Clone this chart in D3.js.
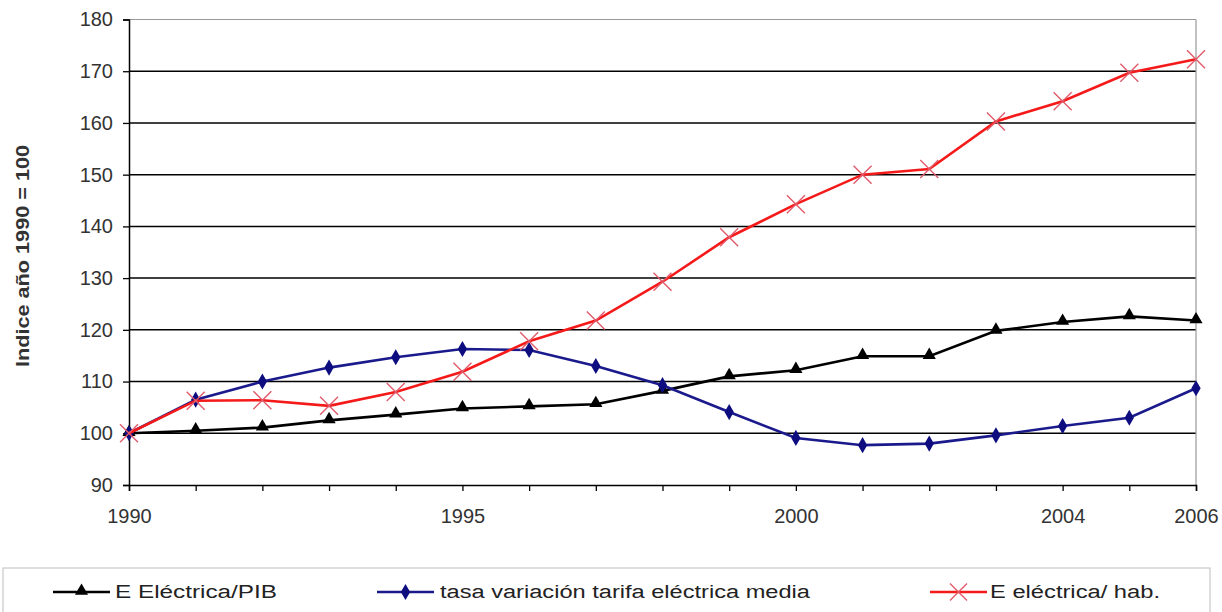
<!DOCTYPE html>
<html><head><meta charset="utf-8">
<script src="https://cdn.jsdelivr.net/npm/d3@7"></script>
<style>body{margin:0;background:#fff}svg{display:block}text{font-family:"Liberation Sans",Arial,sans-serif}</style>
</head><body>
<svg id="c" width="1222" height="612"></svg>
<script>
const years = [1990,1991,1992,1993,1994,1995,1996,1997,1998,1999,2000,2001,2002,2003,2004,2005,2006];
const elecPib = [100,100.5,101.1,102.5,103.6,104.8,105.2,105.6,108.2,111,112.2,114.9,114.9,119.8,121.5,122.6,121.8];
const tarifa = [100,106.5,110,112.7,114.7,116.3,116.1,113,109.3,104.1,99.1,97.7,98,99.6,101.4,103,108.7];
const elecHab = [100,106.3,106.4,105.3,108,111.9,117.8,121.8,129.3,137.9,144.3,150,151.1,160.3,164.2,169.7,172.3];
const yTicks = [90,100,110,120,130,140,150,160,170,180];
const xLabels = [1990,1995,2000,2004,2006];
const seriesNames = ["E Eléctrica/PIB","tasa variación tarifa eléctrica media","E eléctrica/ hab."];

const svg = d3.select("#c");
const L=129, R=1196, T=19.5, B=485;
const x = d3.scaleLinear().domain([1990,2006]).range([L,R]);
const y = d3.scaleLinear().domain([90,180]).range([B,T]);

svg.append("g").selectAll("line").data(yTicks.filter(v=>v>90&&v<180)).join("line")
  .attr("x1",L).attr("x2",R).attr("y1",d=>y(d)).attr("y2",d=>y(d))
  .attr("stroke","#000").attr("stroke-width",1.5);
svg.append("line").attr("x1",L).attr("x2",R).attr("y1",T).attr("y2",T).attr("stroke","#999").attr("stroke-width",1.2);
svg.append("line").attr("x1",R).attr("x2",R).attr("y1",T).attr("y2",B).attr("stroke","#999").attr("stroke-width",1.2);

const ya = svg.append("g").attr("transform",`translate(${L},0)`)
  .call(d3.axisLeft(y).tickValues(yTicks).tickSize(6).tickPadding(10));
ya.select(".domain").attr("stroke","#000").attr("stroke-width",1.5);
ya.selectAll(".tick line").attr("stroke","#000").attr("stroke-width",1.3);
ya.selectAll("text").attr("font-size",20).attr("fill","#333");

const xa = svg.append("g").attr("transform",`translate(0,${B})`)
  .call(d3.axisBottom(x).tickValues(years).tickSize(6).tickPadding(18)
    .tickFormat(d=>xLabels.includes(d)?String(d):""));
xa.select(".domain").attr("stroke","#000").attr("stroke-width",1.5);
xa.selectAll(".tick line").attr("stroke","#000").attr("stroke-width",1.3);
xa.selectAll("text").attr("font-size",20).attr("fill","#333");

svg.append("text").attr("transform","translate(29,256) rotate(-90)").attr("text-anchor","middle")
  .attr("font-size",19).attr("font-weight","bold").attr("fill","#333")
  .attr("textLength",222).attr("lengthAdjust","spacingAndGlyphs").text("Indice año 1990 = 100");

const line = d3.line().x((d,i)=>x(years[i])).y(d=>y(d));
const tri = d3.symbol().type(d3.symbolTriangle).size(75);
const dia = d3.symbol().type(d3.symbolDiamond).size(75);

function drawX(g, cx, cy, s, col){
  g.append("path").attr("d",`M${cx-s},${cy-s}L${cx+s},${cy+s}M${cx-s},${cy+s}L${cx+s},${cy-s}`)
   .attr("stroke",col).attr("stroke-width",1.4).attr("fill","none");
}

svg.append("path").datum(elecPib).attr("d",line).attr("fill","none").attr("stroke","#000").attr("stroke-width",2.6);
svg.append("g").selectAll("path").data(elecPib).join("path")
  .attr("d",tri).attr("transform",(d,i)=>`translate(${x(years[i])},${y(d)-1})`).attr("fill","#000");
svg.append("path").datum(tarifa).attr("d",line).attr("fill","none").attr("stroke","#1a1a8c").attr("stroke-width",2.6);
svg.append("g").selectAll("path").data(tarifa).join("path")
  .attr("d",dia).attr("transform",(d,i)=>`translate(${x(years[i])},${y(d)})`).attr("fill","#0d0d80");
svg.append("path").datum(elecHab).attr("d",line).attr("fill","none").attr("stroke","#f51a1a").attr("stroke-width",2.6);
const rg = svg.append("g");
elecHab.forEach((d,i)=>drawX(rg, x(years[i]), y(d), 9, "#e05a6a"));

svg.append("rect").attr("x",3).attr("y",568).attr("width",1207).attr("height",60)
  .attr("fill","#fff").attr("stroke","#c8c8c8").attr("stroke-width",1.2);
const legLine = [[53,110],[377,434],[930,987]];
const legText = [[115,162],[440,370],[990,170]];
const cols = ["#000","#1a1a8c","#f51a1a"];
const ly = 592;
legLine.forEach((p,k)=>{
  svg.append("line").attr("x1",p[0]).attr("x2",p[1]).attr("y1",ly).attr("y2",ly).attr("stroke",cols[k]).attr("stroke-width",2.6);
  const cx = (p[0]+p[1])/2;
  if(k===0) svg.append("path").attr("d",tri).attr("transform",`translate(${cx},${ly-1})`).attr("fill","#000");
  if(k===1) svg.append("path").attr("d",dia).attr("transform",`translate(${cx},${ly})`).attr("fill","#0d0d80");
  if(k===2) drawX(svg, cx, ly, 8.5, "#e05a6a");
  svg.append("text").attr("x",legText[k][0]).attr("y",ly+6).attr("font-size",18).attr("fill","#222")
    .attr("textLength",legText[k][1]).attr("lengthAdjust","spacingAndGlyphs").text(seriesNames[k]);
});
</script>
</body></html>
